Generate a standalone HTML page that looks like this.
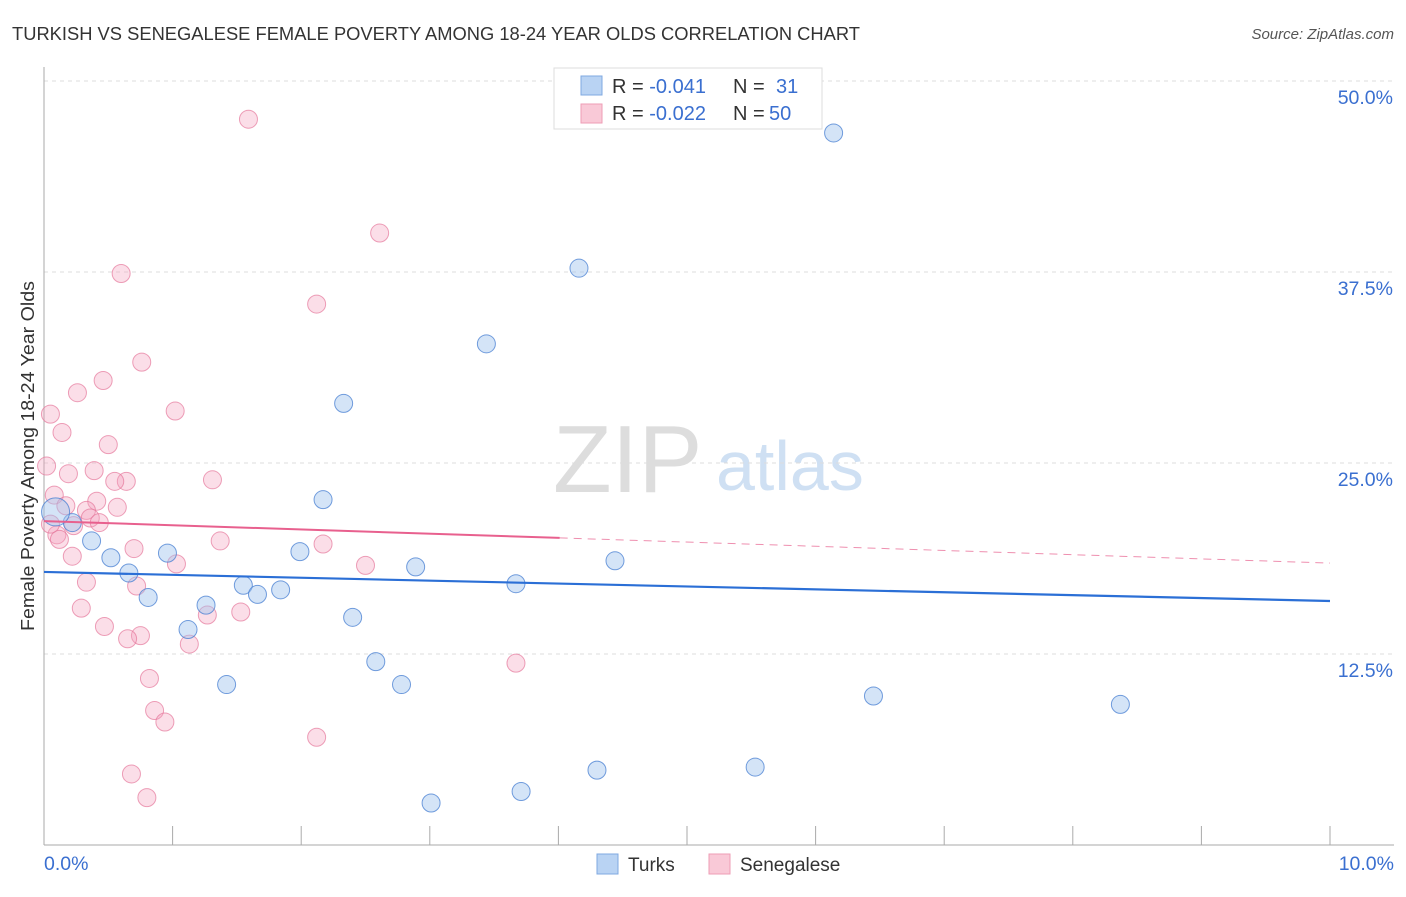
<!DOCTYPE html>
<html><head><meta charset="utf-8"><style>
body{margin:0;background:#fff;font-family:"Liberation Sans",sans-serif;}
svg text{font-family:"Liberation Sans",sans-serif;}
</style></head><body>
<svg width="1406" height="892" viewBox="0 0 1406 892" xmlns="http://www.w3.org/2000/svg">
<text x="12" y="40" font-size="18" fill="#333" textLength="848" lengthAdjust="spacingAndGlyphs">TURKISH VS SENEGALESE FEMALE POVERTY AMONG 18-24 YEAR OLDS CORRELATION CHART</text>
<text x="1394" y="39" font-size="15" fill="#555" font-style="italic" text-anchor="end">Source: ZipAtlas.com</text>
<g>
<text x="553" y="492" font-size="96" fill="#ddd" font-family="Liberation Serif,serif">ZIP</text>
<text x="716" y="490" font-size="70" fill="#cfe0f3">atlas</text>
</g>
<g id="grid"></g>
<g id="axes"></g>
<text transform="translate(34,456) rotate(-90)" font-size="18" fill="#333" text-anchor="middle" textLength="350" lengthAdjust="spacingAndGlyphs">Female Poverty Among 18-24 Year Olds</text>
<g id="marks"></g>
<g>
<rect x="554" y="68" width="268" height="61" fill="#fff" stroke="#ddd"/>
<rect x="581" y="76" width="21" height="19" fill="#b9d3f3" stroke="#7fa8e0"/>
<rect x="581" y="104" width="21" height="19" fill="#f9c9d7" stroke="#ee9db6"/>
<text x="612" y="93" font-size="20" fill="#333">R = <tspan fill="#3a6fd0">-0.041</tspan><tspan x="733">N = </tspan><tspan x="776" fill="#3a6fd0">31</tspan></text>
<text x="612" y="120" font-size="20" fill="#333">R = <tspan fill="#3a6fd0">-0.022</tspan><tspan x="733">N = </tspan><tspan x="769" fill="#3a6fd0">50</tspan></text>
</g>
<g>
<rect x="597" y="854" width="21" height="20" fill="#b9d3f3" stroke="#7fa8e0"/>
<text x="628" y="871" font-size="19" fill="#333">Turks</text>
<rect x="709" y="854" width="21" height="20" fill="#f9c9d7" stroke="#ee9db6"/>
<text x="740" y="871" font-size="19" fill="#333">Senegalese</text>
</g>
</svg>
<script>
const yTicks=[12.5,25,37.5,50];
const yTickLabels=["12.5%","25.0%","37.5%","50.0%"];
const xTickLabels=["0.0%","10.0%"];
const turksX=[6.14,4.16,3.44,2.33,2.17,0.22,0.37,0.52,0.96,0.66,0.81,1.55,1.66,1.84,1.99,2.89,3.67,4.44,1.26,1.12,2.40,2.58,2.78,1.42,6.45,8.37,4.30,5.53,3.71,3.01,0.09];
const turksY=[46.6,37.75,32.8,28.9,22.6,21.1,19.9,18.8,19.1,17.8,16.2,17.0,16.4,16.7,19.2,18.2,17.1,18.6,15.7,14.1,14.9,12.0,10.5,10.5,9.75,9.2,4.9,5.1,3.5,2.75,21.8];
const senX=[1.59,2.61,0.60,2.12,0.76,0.46,0.26,0.05,1.02,0.14,0.50,0.02,0.39,0.19,1.31,0.64,0.55,0.08,0.41,0.17,0.57,0.33,0.36,0.43,0.23,0.10,0.12,2.17,1.37,0.70,0.22,1.03,2.50,0.33,0.72,0.29,1.53,1.27,0.47,0.75,0.65,1.13,3.67,0.82,0.86,0.94,2.12,0.68,0.80,0.05];
const senY=[47.5,40.05,37.4,35.4,31.6,30.4,29.6,28.2,28.4,27.0,26.2,24.8,24.5,24.3,23.9,23.8,23.8,22.9,22.5,22.2,22.1,21.9,21.4,21.1,20.9,20.3,20.0,19.7,19.9,19.4,18.9,18.4,18.3,17.2,16.95,15.5,15.25,15.05,14.3,13.7,13.5,13.15,11.9,10.9,8.8,8.05,7.05,4.65,3.1,21.0];
const turksTrend=[17.87,15.97];
const senTrend=[21.2,18.45];
const senSolidEnd=4.01;

const NS="http://www.w3.org/2000/svg";
const X=v=>44+v*128.6, Y=v=>845-v*15.28;
function mk(tag,attrs,parent){const e=document.createElementNS(NS,tag);for(const k in attrs)e.setAttribute(k,attrs[k]);parent.appendChild(e);return e;}
const grid=document.getElementById('grid'),axes=document.getElementById('axes'),marks=document.getElementById('marks');
yTicks.forEach((t,i)=>{
 const l=mk('line',{x1:44,x2:1394,y1:Y(t),y2:Y(t),stroke:'#ddd','stroke-dasharray':'4,4'},grid);
 
 
 const tx=mk('text',{x:1393,y:Y(t)+23,'font-size':19.5,fill:'#3a6fd0','text-anchor':'end'},axes);
 tx.textContent=yTickLabels[i];
 
 
});
let a=mk('line',{x1:44,x2:44,y1:67,y2:845,stroke:'#aaa'},axes);


a=mk('line',{x1:44,x2:1394,y1:845,y2:845,stroke:'#aaa'},axes);


for(let k=1;k<=10;k++){
 const t=mk('line',{x1:X(k),x2:X(k),y1:826,y2:845,stroke:'#aaa'},axes);
 
 
}
[[0,'start',44],[10,'end',1394]].forEach((d,i)=>{
 const t=mk('text',{x:d[2],y:870,'font-size':19.5,fill:'#3a6fd0','text-anchor':d[1]},axes);
 t.textContent=xTickLabels[i];
 
 
});
senX.forEach((x,i)=>{
 const c=mk('circle',{cx:X(x),cy:Y(senY[i]),r:9,fill:'rgba(244,160,188,0.35)',stroke:'rgba(230,120,155,0.7)','stroke-width':1},marks);
 
 
});
turksX.forEach((x,i)=>{
 const c=mk('circle',{cx:X(x),cy:Y(turksY[i]),r:i==turksX.length-1?14:9,fill:'rgba(160,195,238,0.45)',stroke:'rgba(70,125,210,0.75)','stroke-width':1},marks);
 
 
});
const sl=(senTrend[1]-senTrend[0])/10;
let l=mk('line',{x1:X(0),y1:Y(senTrend[0]),x2:X(senSolidEnd),y2:Y(senTrend[0]+sl*senSolidEnd),stroke:'#e8608e','stroke-width':2},marks);


l=mk('line',{x1:X(senSolidEnd),y1:Y(senTrend[0]+sl*senSolidEnd),x2:X(10),y2:Y(senTrend[1]),stroke:'#e8608e','stroke-width':1,'stroke-dasharray':'8,6',opacity:0.7},marks);


l=mk('line',{x1:X(0),y1:Y(turksTrend[0]),x2:X(10),y2:Y(turksTrend[1]),stroke:'#2b6fd6','stroke-width':2.2},marks);


</script>
</body></html>
